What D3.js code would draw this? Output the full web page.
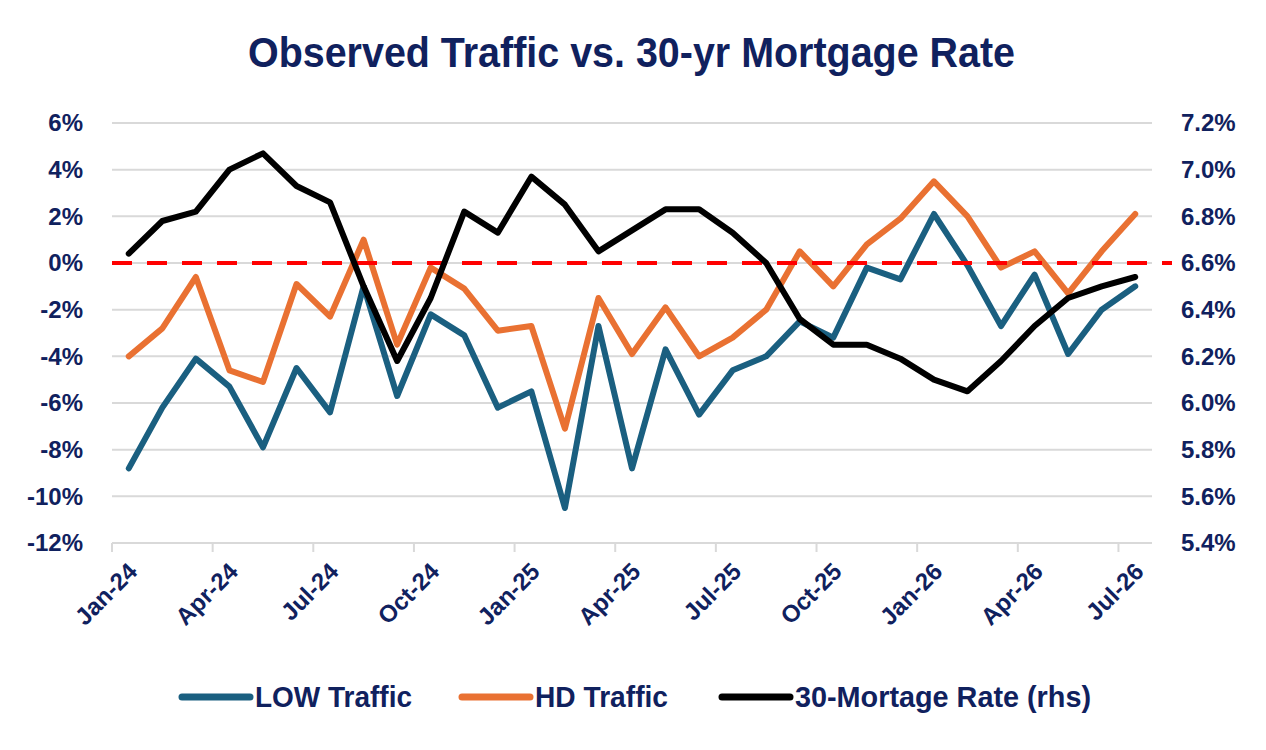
<!DOCTYPE html>
<html>
<head>
<meta charset="utf-8">
<script src="https://cdn.jsdelivr.net/npm/d3@7"></script>
<style>
  body { margin: 0; background: #fff; }
  text { font-family: "Liberation Sans", Arial, sans-serif; }
</style>
</head>
<body>
<div id="chart"></div>
<script>
// Data
const months = ["Jan-24","Feb-24","Mar-24","Apr-24","May-24","Jun-24","Jul-24","Aug-24","Sep-24","Oct-24","Nov-24","Dec-24",
  "Jan-25","Feb-25","Mar-25","Apr-25","May-25","Jun-25","Jul-25","Aug-25","Sep-25","Oct-25","Nov-25","Dec-25",
  "Jan-26","Feb-26","Mar-26","Apr-26","May-26","Jun-26","Jul-26"]
const lowTraffic = [-8.8,-6.2,-4.1,-5.3,-7.9,-4.5,-6.4,-1.0,-5.7,-2.2,-3.1,-6.2,
  -5.5,-10.5,-2.7,-8.8,-3.7,-6.5,-4.6,-4.0,-2.5,-3.2,-0.2,-0.7,
  2.1,-0.1,-2.7,-0.5,-3.9,-2.0,-1.0]
const hdTraffic = [-4.0,-2.8,-0.6,-4.6,-5.1,-0.9,-2.3,1.0,-3.5,-0.2,-1.1,-2.9,
  -2.7,-7.1,-1.5,-3.9,-1.9,-4.0,-3.2,-2.0,0.5,-1.0,0.8,1.9,
  3.5,2.0,-0.2,0.5,-1.3,0.5,2.1]
const mortgageRate = [6.64,6.78,6.82,7.0,7.07,6.93,6.86,6.5,6.18,6.45,6.82,6.73,
  6.97,6.85,6.65,6.74,6.83,6.83,6.73,6.6,6.36,6.25,6.25,6.19,
  6.1,6.05,6.18,6.33,6.45,6.5,6.54]
const leftTicks = [6,4,2,0,-2,-4,-6,-8,-10,-12]
const rightTicks = [7.2,7.0,6.8,6.6,6.4,6.2,6.0,5.8,5.6,5.4]
const labelMonths = ["Jan-24","Apr-24","Jul-24","Oct-24","Jan-25","Apr-25","Jul-25","Oct-25","Jan-26","Apr-26","Jul-26"]
const seriesNames = ["LOW Traffic","HD Traffic","30-Mortage Rate (rhs)"]

;(function () {

  const navy = "#10215e"
  const colors = ["#1a5f80","#e97132","#000000"]

  // Margin convention
  const margin = { top: 123, right: 114, bottom: 207, left: 112 }
  const width = 1266 - margin.left - margin.right
  const height = 750 - margin.top - margin.bottom

  const root = d3.select("#chart").append("svg")
      .attr("width", width + margin.left + margin.right)
      .attr("height", height + margin.top + margin.bottom)

  const svg = root.append("g")
      .attr("transform", "translate(" + margin.left + "," + margin.top + ")")

  // Title (condensed look, squeezed to the reference width)
  root.append("text")
    .attr("x", 248)
    .attr("y", 67)
    .attr("textLength", 767)
    .attr("lengthAdjust", "spacingAndGlyphs")
    .style("font-weight", "bold")
    .style("font-size", "43px")
    .attr("fill", navy)
    .text("Observed Traffic vs. 30-yr Mortgage Rate")

  // Scales
  const xScale = d3.scaleBand().domain(months).range([0, width])
  const yLeft = d3.scaleLinear().domain([-12, 6]).range([height, 0])
  const yRight = d3.scaleLinear().domain([5.4, 7.2]).range([height, 0])
  const half = xScale.bandwidth() / 2

  // Gridlines
  svg.selectAll(".grid")
    .data(leftTicks)
    .join("line")
    .attr("class", "grid")
    .attr("x1", 0)
    .attr("x2", width)
    .attr("y1", d => yLeft(d))
    .attr("y2", d => yLeft(d))
    .attr("stroke", "#d9d9d9")
    .attr("stroke-width", 2)

  // Category ticks (between categories)
  svg.selectAll(".xtick")
    .data(labelMonths)
    .join("line")
    .attr("class", "xtick")
    .attr("x1", d => xScale(d))
    .attr("x2", d => xScale(d))
    .attr("y1", height)
    .attr("y2", height + 9)
    .attr("stroke", "#d9d9d9")
    .attr("stroke-width", 2)

  // Axes
  const leftAxis = svg.append("g")
    .call(d3.axisLeft(yLeft).tickValues(leftTicks).tickFormat(d => d + "%").tickSize(0).tickPadding(29))
  const rightAxis = svg.append("g")
    .attr("transform", "translate(" + width + ",0)")
    .call(d3.axisRight(yRight).tickValues(rightTicks).tickFormat(d => d.toFixed(1) + "%").tickSize(0).tickPadding(29))
  ;[leftAxis, rightAxis].forEach(ax => {
    ax.select(".domain").remove()
    ax.selectAll("text")
      .style("font-family", "'Liberation Sans', Arial, sans-serif")
      .style("font-size", "24px")
      .style("font-weight", "bold")
      .attr("fill", navy)
  })

  // Rotated month labels
  svg.selectAll(".xlabel")
    .data(labelMonths)
    .join("text")
    .attr("class", "xlabel")
    .attr("text-anchor", "end")
    .attr("dy", "0.35em")
    .attr("transform", d => "translate(" + (xScale(d) + half + 4) + "," + (height + 24) + ") rotate(-45)")
    .style("font-size", "24px")
    .style("font-weight", "bold")
    .attr("fill", navy)
    .text(d => d)

  // Lines
  const line = d3.line()
    .x((d, i) => xScale(months[i]) + half)

  const series = [lowTraffic, hdTraffic]
  series.forEach((values, k) => {
    svg.append("path")
      .datum(values)
      .attr("fill", "none")
      .attr("stroke", colors[k])
      .attr("stroke-width", 6)
      .attr("stroke-linejoin", "round")
      .attr("stroke-linecap", "round")
      .attr("d", line.y(d => yLeft(d)))
  })

  // Zero line, dashed red
  svg.append("line")
    .attr("x1", 0)
    .attr("x2", width + 20)
    .attr("y1", yLeft(0))
    .attr("y2", yLeft(0))
    .attr("stroke", "#ff0000")
    .attr("stroke-width", 4)
    .attr("stroke-dasharray", "20,15")

  svg.append("path")
    .datum(mortgageRate)
    .attr("fill", "none")
    .attr("stroke", colors[2])
    .attr("stroke-width", 6)
    .attr("stroke-linejoin", "round")
    .attr("stroke-linecap", "round")
    .attr("d", line.y(d => yRight(d)))

  // Legend
  const legendX = [182, 462, 722]
  const legendW = [157, 133, 296]
  const legend = root.selectAll(".legend")
    .data(seriesNames)
    .join("g")
    .attr("class", "legend")
    .attr("transform", (d, i) => "translate(" + legendX[i] + ",697)")

  legend.append("line")
    .attr("x1", 0)
    .attr("x2", 68)
    .attr("stroke", (d, i) => colors[i])
    .attr("stroke-width", 7)
    .attr("stroke-linecap", "round")

  legend.append("text")
    .attr("x", 73)
    .attr("dy", "0.35em")
    .attr("textLength", (d, i) => legendW[i])
    .attr("lengthAdjust", "spacingAndGlyphs")
    .style("font-weight", "bold")
    .style("font-size", "29px")
    .attr("fill", navy)
    .text(d => d)

})();
</script>
</body>
</html>
